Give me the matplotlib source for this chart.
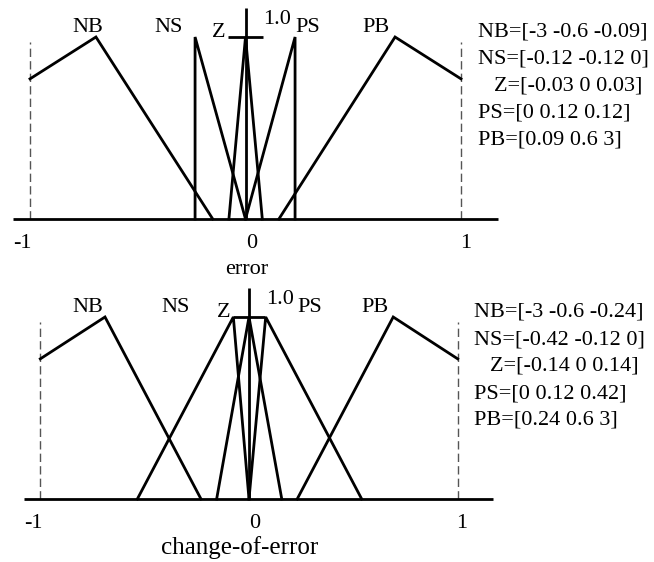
import matplotlib
matplotlib.use("Agg")
import matplotlib.pyplot as plt

plt.rcParams['font.family'] = ['Liberation Serif', 'DejaVu Serif']

W, H = 654, 562

# membership functions as drawn (x in normalised units, y = membership)
set_names = ["NB", "NS", "Z", "PS", "PB"]

err_x = [[-1, -0.694, -0.152], [-0.234, -0.234, 0], [-0.077, 0, 0.078],
         [0, 0.23, 0.23], [0.155, 0.694, 1]]
err_y = [[0.77, 1, 0], [0, 1, 0], [0, 1, 0], [0, 1, 0], [0, 1, 0.77]]
err_params = ["NB=[-3 -0.6 -0.09]", "NS=[-0.12 -0.12 0]", "Z=[-0.03 0 0.03]",
              "PS=[0 0.12 0.12]", "PB=[0.09 0.6 3]"]

coe_x = [[-1, -0.69, -0.23], [-0.535, -0.075, 0], [-0.155, 0, 0.157],
         [0, 0.08, 0.54], [0.231, 0.691, 1]]
coe_y = [[0.77, 1, 0], [0, 1, 0], [0, 1, 0], [0, 1, 0], [0, 1, 0.77]]
coe_params = ["NB=[-3 -0.6 -0.24]", "NS=[-0.42 -0.12 0]", "Z=[-0.14 0 0.14]",
              "PS=[0 0.12 0.42]", "PB=[0.24 0.6 3]"]

tick_vals = [-1, 0, 1]
tick_text = ["-1", "0", "1"]

fig = plt.figure(figsize=(W / 100, H / 100), dpi=100)

FS = 16
XLIM = (-1.12, 1.22)
YLIM = (-0.36, 1.2)


def place(x0, xs, ybase, ys):
    # x0: pixel of x=0, xs: px per unit, ybase: pixel row of y=0, ys: px per unit
    left = x0 + XLIM[0] * xs
    right = x0 + XLIM[1] * xs
    bot = ybase - YLIM[0] * ys
    top = ybase - YLIM[1] * ys
    ax = fig.add_axes([left / W, 1 - bot / H, (right - left) / W, (bot - top) / H])
    ax.set_xlim(*XLIM)
    ax.set_ylim(*YLIM)
    ax.axis('off')
    return ax


def panel(ax, xs, ys, params, xlabel, label_dx, text_x, text_y0, z_indent):
    lw = 2.0
    for v in (-1, 1):
        ax.plot([v, v], [0, 0.973], color='#555555', lw=1.0,
                linestyle=(0, (6, 3)))
    ax.plot([-1.08, 1.17], [0, 0], color='black', lw=lw, solid_capstyle='butt')
    ax.plot([0, 0], [0, 1.16], color='black', lw=lw, solid_capstyle='butt')
    ax.plot([-0.079, 0.079], [1, 1], color='black', lw=lw, solid_capstyle='butt')
    for x, y in zip(xs, ys):
        ax.plot(x, y, color='black', lw=lw, solid_joinstyle='miter')
    # set labels
    lab_pos = [(label_dx[0], 1.03), (label_dx[1], 1.03), (-0.123, 1.0),
               (0.29, 1.03), (0.604, 1.03)]
    for name, (lx, ly) in zip(set_names, lab_pos):
        ax.text(lx, ly, name, fontsize=FS, ha='center', va='baseline')
    ax.text(0.148, 1.072, "1.0", fontsize=FS, ha='center', va='baseline')
    for v, t in zip(tick_vals, tick_text):
        off = {-1: -0.035, 0: 0.028, 1: 0.02}[v]
        ax.text(v + off, -0.157, t, fontsize=FS, ha='center', va='baseline')
    ax.text(xlabel[1], -0.30, xlabel[0], fontsize=xlabel[2], ha='center',
            va='baseline')
    for i, p in enumerate(params):
        px = text_x + (z_indent if p.startswith("Z") else 0)
        py = text_y0 + 27 * i + 7.5
        fig.text(px / W, 1 - py / H, p, fontsize=FS, ha='left', va='baseline')


ax1 = place(245.5, 215.5, 219, 182)
panel(ax1, err_x, err_y, err_params, ("error", 0.005, FS), (-0.733, -0.356),
      478, 29, 16.5)

ax2 = place(249, 208.7, 499, 182)
panel(ax2, coe_x, coe_y, coe_params, ("change-of-error", -0.043, 18),
      (-0.77, -0.351), 474, 309.5, 16)

fig.savefig("out.png", dpi=100)
